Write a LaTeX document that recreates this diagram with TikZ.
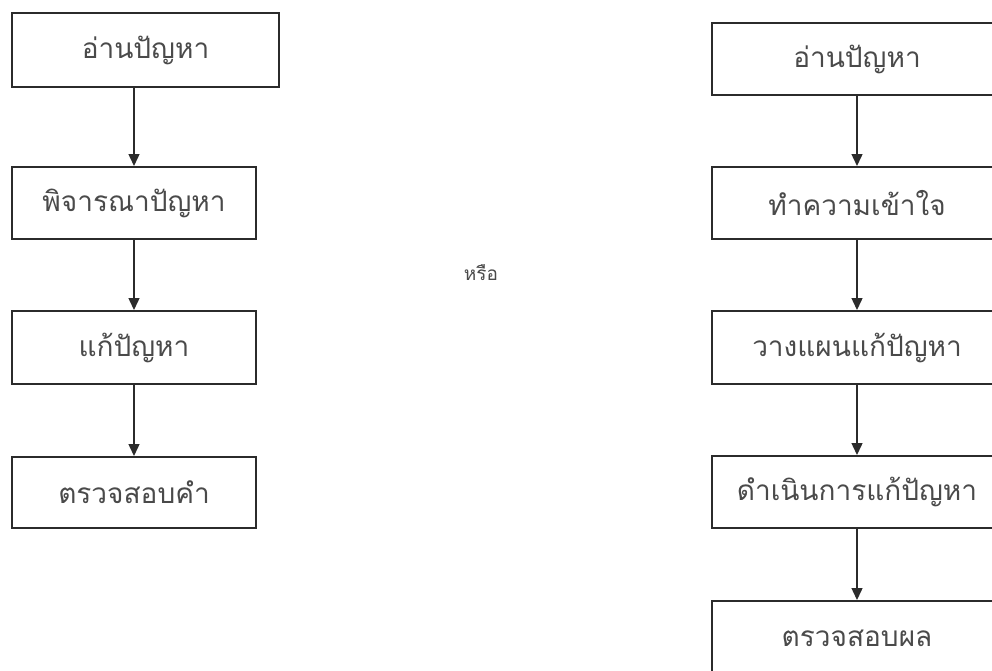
\documentclass[tikz,border=0pt]{standalone}
\usepackage{fontspec}
\newfontfamily\thaifont[Script=Thai]{Loma}
\usetikzlibrary{arrows.meta}
\definecolor{linec}{HTML}{2B2B2B}
\definecolor{textc}{HTML}{4A4A4A}
\tikzset{
  stepbox/.style={draw=linec, line width=2pt, fill=white, text=textc, font=\thaifont\fontsize{28}{32}\selectfont, inner sep=0pt},
  flow/.style={draw=linec, line width=1.4pt, -{Triangle[length=12pt,width=11pt]}},
}
\begin{document}
\begin{tikzpicture}[x=1pt,y=-1pt]
\useasboundingbox (0,0) rectangle (992,670);
\clip (0,0) rectangle (992,670);
% left column
\node[stepbox, minimum width=267pt, minimum height=74pt] (l1) at (145.5,50) {อ่านปัญหา};
\node[stepbox, minimum width=244pt, minimum height=72pt] (l2) at (134,203) {พิจารณาปัญหา};
\node[stepbox, minimum width=244pt, minimum height=73pt] (l3) at (134,347.5) {แก้ปัญหา};
\node[stepbox, minimum width=244pt, minimum height=71pt] (l4) at (134,492.5) {ตรวจสอบคำ};
\draw[flow] (l2.north |- l1.south) -- (l2.north);
\draw[flow] (l2.south) -- (l3.north);
\draw[flow] (l3.south) -- (l4.north);
% middle
\node[text=textc, font=\thaifont\fontsize{19}{22}\selectfont] (or) at (481,273) {หรือ};
% right column
\node[stepbox, minimum width=290pt, minimum height=72pt] (r1) at (857,59) {อ่านปัญหา};
\node[stepbox, minimum width=290pt, minimum height=72pt] (r2) at (857,203) {ทำความเข้าใจ};
\node[stepbox, minimum width=290pt, minimum height=73pt] (r3) at (857,347.5) {วางแผนแก้ปัญหา};
\node[stepbox, minimum width=290pt, minimum height=72pt] (r4) at (857,492) {ดำเนินการแก้ปัญหา};
\node[stepbox, minimum width=290pt, minimum height=74pt] (r5) at (857,638) {ตรวจสอบผล};
\draw[flow] (r1.south) -- (r2.north);
\draw[flow] (r2.south) -- (r3.north);
\draw[flow] (r3.south) -- (r4.north);
\draw[flow] (r4.south) -- (r5.north);
\end{tikzpicture}
\end{document}
